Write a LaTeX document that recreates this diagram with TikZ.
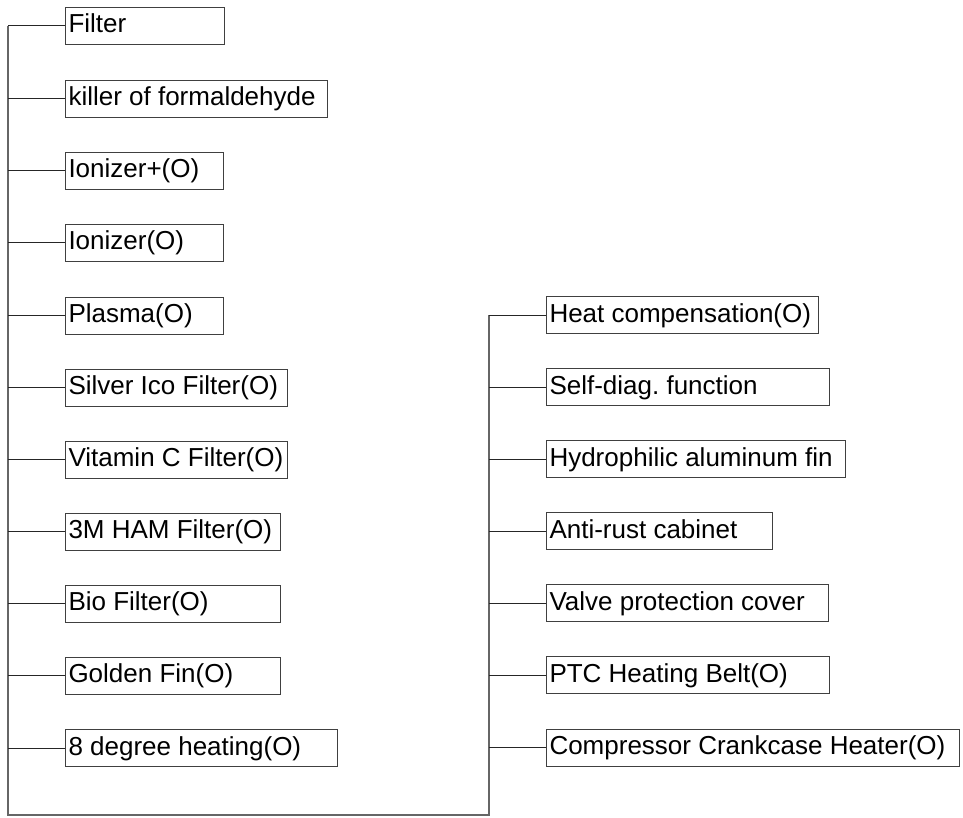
\documentclass[tikz,border=0pt]{standalone}
\usepackage{fontspec}
\setmainfont{Liberation Sans}
\frenchspacing
\begin{document}
\begin{tikzpicture}[x=1pt,y=-1pt,
  itembox/.style={draw=black!75,line width=1pt,rectangle,anchor=west,
    minimum height=37pt,inner xsep=3pt,inner ysep=0pt,
    text height=19pt,text depth=5pt,
    font=\fontsize{26}{28}\selectfont\frenchspacing,text=black},
  link/.style={draw=black!85,line width=1pt},
  trunk/.style={draw=black!60,line width=1.2pt}]
\useasboundingbox (0,0) rectangle (963,817);
% left column
\newcommand{\lbox}[4]{\node[itembox] (#1) at (65,#3) {\makebox[\dimexpr#2pt-6pt\relax][l]{#4}};}
\lbox{l1}{159}{25.5}{Filter}
\lbox{l2}{262}{98.5}{killer of formaldehyde}
\lbox{l3}{158}{170.5}{Ionizer+(O)}
\lbox{l4}{158}{242.5}{Ionizer(O)}
\lbox{l5}{158}{315.5}{Plasma(O)}
\lbox{l6}{222}{387.5}{Silver Ico Filter(O)}
\lbox{l7}{222}{459.5}{Vitamin C Filter(O)}
\lbox{l8}{215}{531.5}{3M HAM Filter(O)}
\lbox{l9}{215}{603.5}{Bio Filter(O)}
\lbox{l10}{215}{675.5}{Golden Fin(O)}
\lbox{l11}{272}{748}{8 degree heating(O)}
% right column
\newcommand{\rbox}[4]{\node[itembox] (#1) at (546,#3) {\makebox[\dimexpr#2pt-6pt\relax][l]{#4}};}
\rbox{r1}{272}{315}{Heat compensation(O)}
\rbox{r2}{283}{387}{Self-diag. function}
\rbox{r3}{299}{459}{Hydrophilic aluminum fin}
\rbox{r4}{226}{531}{Anti-rust cabinet}
\rbox{r5}{282}{603}{Valve protection cover}
\rbox{r6}{283}{675}{PTC Heating Belt(O)}
\rbox{r7}{413}{747.5}{Compressor Crankcase Heater(O)}
% trunks
\coordinate (lt) at (8,25.5);
\coordinate (lb) at (8,815);
\coordinate (rb) at (489,815);
\coordinate (rt) at (489,315);
\draw[trunk] (lt) -- (lb) -- (rb) -- (rt);
% branches
\foreach \n in {l1,l2,l3,l4,l5,l6,l7,l8,l9,l10,l11}
  \draw[link] (\n.west) -- (8,0 |- \n.west);
\foreach \n in {r1,r2,r3,r4,r5,r6,r7}
  \draw[link] (\n.west) -- (489,0 |- \n.west);
\end{tikzpicture}
\end{document}
